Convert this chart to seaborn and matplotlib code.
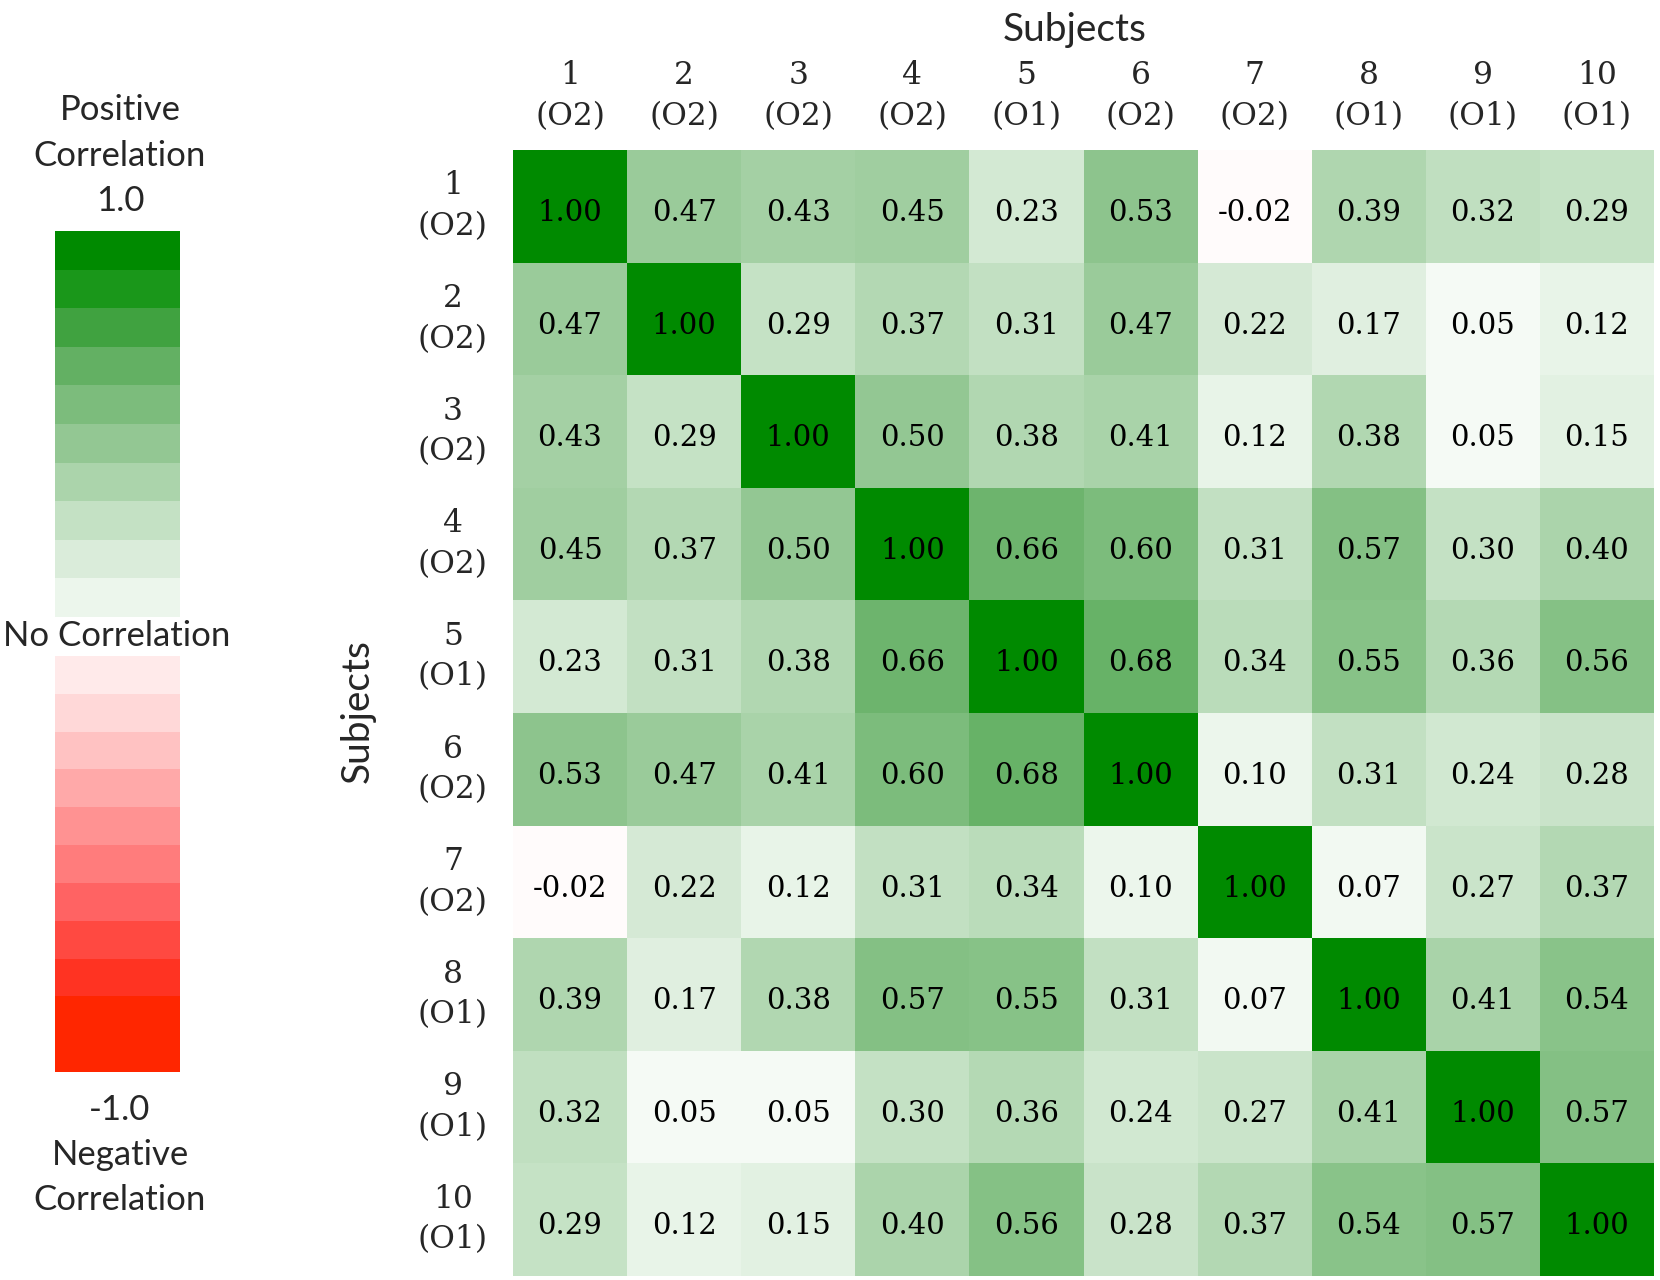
import matplotlib
matplotlib.use("Agg")
import matplotlib.pyplot as plt
import seaborn as sns
import numpy as np
import pandas as pd
from matplotlib.colors import LinearSegmentedColormap

subjects = [str(i) for i in range(1, 11)]
groups = ["O2", "O2", "O2", "O2", "O1", "O2", "O2", "O1", "O1", "O1"]

corr = [
    [1.00, 0.47, 0.43, 0.45, 0.23, 0.53, -0.02, 0.39, 0.32, 0.29],
    [0.47, 1.00, 0.29, 0.37, 0.31, 0.47, 0.22, 0.17, 0.05, 0.12],
    [0.43, 0.29, 1.00, 0.50, 0.38, 0.41, 0.12, 0.38, 0.05, 0.15],
    [0.45, 0.37, 0.50, 1.00, 0.66, 0.60, 0.31, 0.57, 0.30, 0.40],
    [0.23, 0.31, 0.38, 0.66, 1.00, 0.68, 0.34, 0.55, 0.36, 0.56],
    [0.53, 0.47, 0.41, 0.60, 0.68, 1.00, 0.10, 0.31, 0.24, 0.28],
    [-0.02, 0.22, 0.12, 0.31, 0.34, 0.10, 1.00, 0.07, 0.27, 0.37],
    [0.39, 0.17, 0.38, 0.57, 0.55, 0.31, 0.07, 1.00, 0.41, 0.54],
    [0.32, 0.05, 0.05, 0.30, 0.36, 0.24, 0.27, 0.41, 1.00, 0.57],
    [0.29, 0.12, 0.15, 0.40, 0.56, 0.28, 0.37, 0.54, 0.57, 1.00],
]

# legend band values (top to bottom)
green_bands = [1.0, 0.9, 0.8, 0.7, 0.6, 0.5, 0.4, 0.3, 0.2, 0.1]
red_bands = [-0.1, -0.2, -0.3, -0.4, -0.5, -0.6, -0.7, -0.8, -0.9, -1.0, -1.0]

# colour ramp: red (-1) -> white (0) -> green (+1)
nodes = [
    (-1.0, (255, 38, 0)), (-0.9, (255, 52, 36)), (-0.8, (255, 74, 66)),
    (-0.7, (255, 100, 100)), (-0.6, (255, 124, 124)), (-0.5, (255, 146, 146)),
    (-0.4, (255, 170, 170)), (-0.3, (255, 194, 194)), (-0.2, (255, 216, 216)),
    (-0.1, (255, 234, 234)), (0.0, (255, 255, 255)),
    (0.1, (236, 246, 236)), (0.2, (218, 236, 218)), (0.3, (196, 225, 196)),
    (0.4, (172, 212, 172)), (0.5, (148, 200, 148)), (0.6, (124, 188, 124)),
    (0.7, (100, 176, 100)), (0.8, (65, 162, 65)), (0.9, (28, 152, 28)),
    (1.0, (0, 138, 0)),
]
cmap = LinearSegmentedColormap.from_list(
    "corr", [((v + 1) / 2, tuple(c / 255 for c in rgb)) for v, rgb in nodes])

sans = ["Lato", "DejaVu Sans"]
serif = ["DejaVu Serif"]

sns.set_style("white")
fig = plt.figure(figsize=(16.6, 12.8), dpi=100)
W, H = 1660, 1280


def px_axes(left, top, right, bottom):
    return fig.add_axes([left / W, 1 - bottom / H, (right - left) / W, (bottom - top) / H])


labels = [f"{s}\n({g})" for s, g in zip(subjects, groups)]
df = pd.DataFrame(corr, index=labels, columns=labels)

ax = px_axes(513, 150, 1654, 1276)
sns.heatmap(df, ax=ax, cmap=cmap, vmin=-1, vmax=1, cbar=False, annot=True, fmt=".2f",
            annot_kws={"fontsize": 21, "color": "black", "family": serif}, linewidths=0)
# nudge the numbers a touch below the cell centre, as in the original
for t in ax.texts:
    x, y = t.get_position()
    t.set_position((x, y + 0.06))
ax.xaxis.tick_top()
ax.tick_params(length=0)
ax.tick_params(axis="x", pad=13)
ax.tick_params(axis="y", pad=18)
ax.set_xticklabels(labels, rotation=0, fontsize=22.5, family=serif, linespacing=1.4)
ax.set_yticklabels(labels, rotation=0, fontsize=22.5, family=serif, linespacing=1.4,
                   ha="right", multialignment="center")
ax.set_xlabel("")
ax.set_ylabel("")
fig.text(1075 / W, 1 - 30 / H, "Subjects", ha="center", va="center", fontsize=28, family=sans)
fig.text(358 / W, 1 - 711 / H, "Subjects", ha="center", va="center", fontsize=28,
         family=sans, rotation=90)

# left legend bars
axg = px_axes(55, 231, 180, 617)
sns.heatmap(np.array(green_bands).reshape(-1, 1), ax=axg, cmap=cmap, vmin=-1, vmax=1,
            cbar=False, xticklabels=False, yticklabels=False)
axr = px_axes(55, 656, 180, 1072)
sns.heatmap(np.array(red_bands).reshape(-1, 1), ax=axr, cmap=cmap, vmin=-1, vmax=1,
            cbar=False, xticklabels=False, yticklabels=False)

for txt, y in [("Positive", 110), ("Correlation", 156), ("1.0", 201),
               ("No Correlation", 636), ("-1.0", 1110), ("Negative", 1155),
               ("Correlation", 1200)]:
    x = 117 if txt == "No Correlation" else 120
    fig.text(x / W, 1 - y / H, txt, ha="center", va="center", fontsize=25, family=sans)

fig.savefig("out.png", dpi=100)
